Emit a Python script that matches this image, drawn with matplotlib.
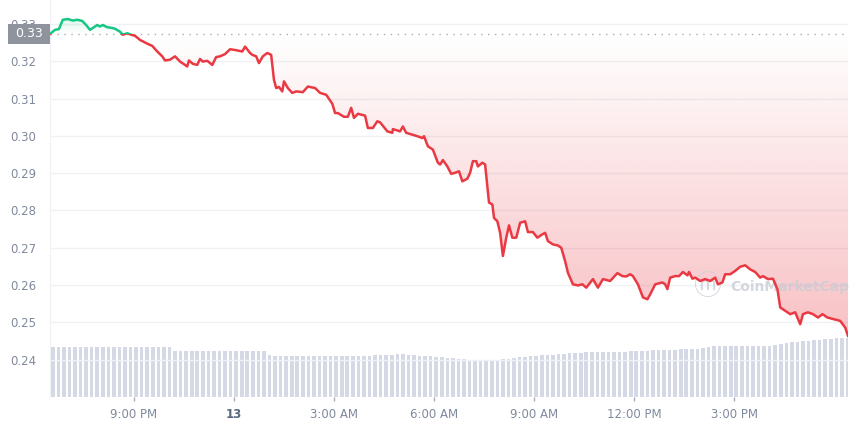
import matplotlib
matplotlib.use('Agg')
import matplotlib.pyplot as plt
import numpy as np
from matplotlib.patches import Rectangle, PathPatch
from matplotlib.path import Path

# price: minutes after 18:29, price (USD)
minutes = [0, 9, 16, 23, 32, 41, 49, 58, 65, 72, 77, 85, 90, 95, 103, 112, 117, 126, 131, 139,
           146, 153, 162, 175, 184, 193, 202, 207, 216, 225, 234, 247, 250, 257, 265, 270, 275, 283, 292, 299,
           306, 315, 324, 333, 346, 351, 360, 364, 371, 376, 383, 391, 398, 403, 407, 412, 418, 421, 428, 436,
           443, 455, 464, 477, 486, 497, 508, 513, 518, 529, 536, 542, 547, 554, 567, 572, 581, 589, 594, 607,
           616, 617, 630, 635, 641, 652, 661, 670, 673, 680, 689, 698, 702, 707, 715, 722, 729, 736, 742, 751,
           756, 761, 767, 770, 778, 783, 790, 796, 799, 805, 810, 815, 821, 826, 832, 839, 846, 855, 860, 869,
           877, 886, 891, 896, 905, 914, 920, 927, 932, 941, 950, 958, 965, 977, 986, 995, 1008, 1021, 1030, 1037,
           1044, 1049, 1058, 1067, 1075, 1080, 1089, 1102, 1107, 1111, 1116, 1125, 1132, 1139, 1147, 1150, 1156, 1161, 1170, 1179,
           1188, 1197, 1202, 1210, 1215, 1224, 1233, 1242, 1251, 1260, 1269, 1278, 1283, 1292, 1301, 1309, 1314, 1323, 1332, 1341,
           1350, 1355, 1364, 1373, 1382, 1390, 1399, 1409, 1422, 1431, 1436]
prices = [0.3273, 0.3284, 0.3286, 0.3311, 0.3313, 0.3309, 0.3311, 0.3308, 0.3297, 0.3284,
          0.3289, 0.3297, 0.3293, 0.3297, 0.3291, 0.3289, 0.3287, 0.3279, 0.3271, 0.3275,
          0.3271, 0.3268, 0.3257, 0.3247, 0.3241, 0.3226, 0.3213, 0.3202, 0.3204, 0.3213,
          0.3199, 0.3186, 0.3202, 0.3193, 0.3190, 0.3206, 0.3199, 0.3201, 0.3190, 0.3211,
          0.3213, 0.3219, 0.3232, 0.3230, 0.3226, 0.3239, 0.3222, 0.3217, 0.3213, 0.3195,
          0.3213, 0.3222, 0.3217, 0.3150, 0.3128, 0.3131, 0.3119, 0.3146, 0.3128, 0.3115,
          0.3119, 0.3117, 0.3132, 0.3128, 0.3115, 0.3110, 0.3086, 0.3061, 0.3061, 0.3051,
          0.3051, 0.3075, 0.3048, 0.3059, 0.3054, 0.3021, 0.3021, 0.3039, 0.3036, 0.3012,
          0.3008, 0.3018, 0.3012, 0.3025, 0.3008, 0.3003, 0.2999, 0.2994, 0.2999, 0.2972,
          0.2963, 0.2928, 0.2923, 0.2935, 0.2918, 0.2898, 0.2901, 0.2905, 0.2878, 0.2885,
          0.2901, 0.2932, 0.2932, 0.2918, 0.2928, 0.2923, 0.2821, 0.2816, 0.2780, 0.2771,
          0.2740, 0.2678, 0.2727, 0.2760, 0.2727, 0.2727, 0.2767, 0.2771, 0.2742, 0.2742,
          0.2727, 0.2736, 0.2740, 0.2718, 0.2709, 0.2706, 0.2700, 0.2664, 0.2633, 0.2602,
          0.2599, 0.2602, 0.2593, 0.2616, 0.2593, 0.2616, 0.2611, 0.2632, 0.2624, 0.2623,
          0.2629, 0.2624, 0.2602, 0.2567, 0.2562, 0.2575, 0.2602, 0.2607, 0.2602, 0.2589,
          0.2620, 0.2624, 0.2624, 0.2635, 0.2626, 0.2635, 0.2617, 0.2620, 0.2611, 0.2616,
          0.2611, 0.2620, 0.2602, 0.2607, 0.2629, 0.2629, 0.2638, 0.2649, 0.2653, 0.2642,
          0.2635, 0.2620, 0.2624, 0.2616, 0.2617, 0.2589, 0.2540, 0.2531, 0.2522, 0.2527,
          0.2495, 0.2522, 0.2527, 0.2522, 0.2513, 0.2522, 0.2513, 0.2509, 0.2504, 0.2486, 0.2464]
open_price = 0.3273

# volume, one bar every 10 minutes (relative units)
volume = [50, 50, 50, 50, 50, 50, 50, 50, 50, 50, 50, 50,
          50, 50, 50, 50, 50, 50, 50, 50, 50, 50, 46, 46,
          46, 46, 46, 46, 46, 46, 46, 46, 46, 46, 46, 46,
          46, 46, 46, 42, 41.5, 41.5, 41.5, 41.5, 41.5, 41.5, 41.5, 41.5,
          41.5, 41.5, 41.5, 41.5, 41.5, 41.5, 41.5, 41.5, 41.5, 41.5, 42, 42,
          42, 42.5, 43, 43, 42.5, 42, 41.5, 41.5, 41, 40.5, 40, 39.5,
          39, 38.5, 38, 37.5, 37, 37, 37, 37, 37.5, 38, 38.5, 39.5,
          40, 40.5, 41, 41.5, 42, 42, 42.5, 43, 43.5, 44, 44, 44.5,
          45, 45, 45, 45, 45, 45, 45, 45.5, 46, 46, 46.5, 46.5,
          47, 47, 47, 47.5, 47.5, 48, 48, 48, 48.5, 49, 50, 51,
          51, 51, 51, 51, 51, 51, 51, 51, 51, 51, 52, 53,
          54, 55, 55.5, 56, 56.5, 57, 57.5, 58, 58.5, 59, 59, 59.5]

tick_minutes = [151, 331, 511, 691, 871, 1051, 1231]
tick_labels = ['9:00 PM', '13', '3:00 AM', '6:00 AM', '9:00 AM', '12:00 PM', '3:00 PM']
y_ticks = [0.24, 0.25, 0.26, 0.27, 0.28, 0.29, 0.30, 0.31, 0.32, 0.33]

red = '#ea3943'
green = '#16c784'

t = np.array(minutes, dtype=float)
p = np.array(prices)

fig = plt.figure(figsize=(8.5, 4.25), dpi=100)
ax = fig.add_axes([50/850, 28/425, 798/850, 397/425])
ax.set_xlim(0, 1436)
ax.set_ylim(0.23, 0.3364)

# volume bars on their own scale
axv = ax.twinx()
axv.set_ylim(0, 397)
vt = np.arange(len(volume)) * 10 + 5
axv.bar(vt, volume, width=6.5, color='#d5d9e6', linewidth=0)
axv.set_yticks([])
for s in axv.spines.values():
    s.set_visible(False)
axv.set_zorder(0)
ax.set_zorder(1)
ax.patch.set_visible(False)

# grid
for yv in y_ticks:
    ax.axhline(yv, color='#eff1f4', lw=1, zorder=0)

# gradient fills between price and open
def grad_fill(mask_below, color, a0, a1, y0, y1):
    poly = ax.fill_between(t, p, open_price, where=(p < open_price) if mask_below else (p >= open_price),
                           interpolate=True, color='none', lw=0)
    paths = poly.get_paths()
    if not paths:
        return
    path = Path.make_compound_path(*paths)
    patch = PathPatch(path, transform=ax.transData, facecolor='none', edgecolor='none')
    ax.add_patch(patch)
    n = 256
    alphas = np.linspace(a1, a0, n).reshape(-1, 1)
    rgba = np.zeros((n, 1, 4))
    rgba[..., :3] = matplotlib.colors.to_rgb(color)
    rgba[..., 3] = alphas
    im = ax.imshow(rgba, extent=[0, 1436, y0, y1], aspect='auto', origin='lower', zorder=1)
    im.set_clip_path(patch)

grad_fill(True, red, 0.0, 0.32, 0.245, open_price)
grad_fill(False, green, 0.16, 0.0, open_price, 0.332)
ax.set_xlim(0, 1436)
ax.set_ylim(0.23, 0.3364)

# price line, green above open, red below
l1, = ax.plot(t, p, color=green, lw=1.8, zorder=3, solid_joinstyle='round')
l1.set_clip_path(Rectangle((0, open_price), 1436, 0.02, transform=ax.transData))
l2, = ax.plot(t, p, color=red, lw=1.8, zorder=3, solid_joinstyle='round')
l2.set_clip_path(Rectangle((0, 0.2), 1436, open_price - 0.2, transform=ax.transData))

ax.axhline(open_price, color='#a6acb8', lw=1, ls=(0, (1, 4)), zorder=2)

# axes styling
ax.set_yticks(y_ticks)
ax.set_yticklabels(['%.2f' % v for v in y_ticks])
ax.tick_params(axis='y', length=0, pad=10, labelsize=8.5, labelcolor='#808a9d')
ax.set_xticks(tick_minutes)
ax.set_xticklabels(tick_labels)
ax.tick_params(axis='x', length=3, width=1, color='#a6acb8', pad=5, labelsize=8.5, labelcolor='#808a9d')
ax.get_xticklabels()[1].set_fontweight('bold')
ax.get_xticklabels()[1].set_color('#58667e')
for side in ['top', 'right', 'bottom']:
    ax.spines[side].set_visible(False)
ax.spines['left'].set_color('#eff1f4')

# open price marker on the axis
ytr = ax.get_yaxis_transform()
ax.add_patch(Rectangle((-42/798, open_price - 0.0028), 42/798, 0.0056, transform=ytr,
                       facecolor='#8e939e', edgecolor='none', clip_on=False, zorder=5))
ax.text(-21/798, open_price, '0.33', transform=ytr, ha='center', va='center',
        fontsize=9, color='white', zorder=6)

# watermark
ax.text(0.852, 0.277, 'CoinMarketCap', transform=ax.transAxes, fontsize=10, fontweight='bold',
        color='#c9cdd6', alpha=0.8, ha='left', va='center', zorder=2)
ax.text(0.806, 0.277, 'ⓜ', transform=ax.transAxes, fontsize=20,
        family=['Noto Sans CJK JP', 'DejaVu Sans'],
        color='#c9cdd6', alpha=0.8, ha='left', va='center', zorder=2)

plt.savefig('out.png', dpi=100)
